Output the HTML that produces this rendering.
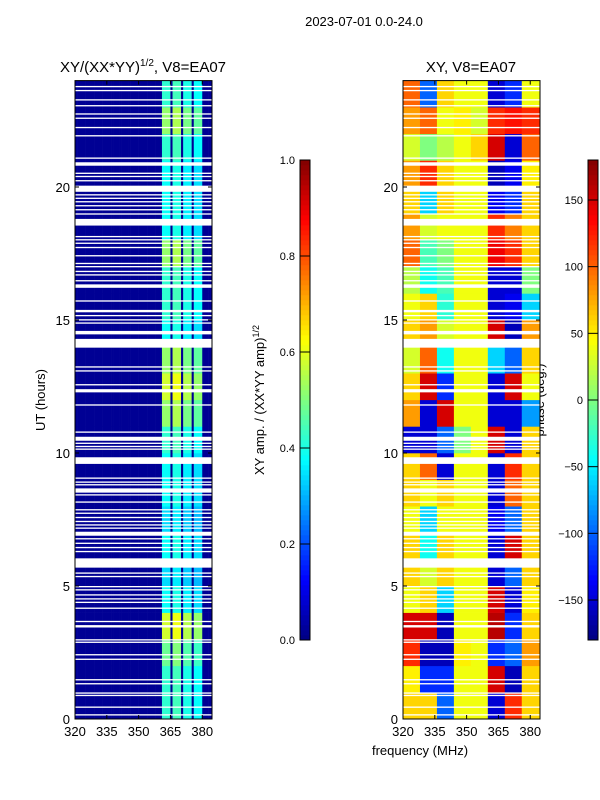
<!DOCTYPE html>
<html><head><meta charset="utf-8"><style>
body{margin:0;background:#fff;}
svg{display:block;font-family:"Liberation Sans",sans-serif;}
</style></head><body>
<svg id="fig" width="600" height="800" viewBox="0 0 600 800">
<rect width="600" height="800" fill="#fff"/>
<text x="364" y="26" font-size="13" text-anchor="middle">2023-07-01 0.0-24.0</text>
<text x="143" y="72" font-size="15" text-anchor="middle">XY/(XX*YY)<tspan font-size="10" dy="-6">1/2</tspan><tspan dy="6">, V8=EA07</tspan></text>
<text x="471" y="72" font-size="15" text-anchor="middle">XY, V8=EA07</text>
<text x="45" y="400" font-size="13" text-anchor="middle" transform="rotate(-90 45 400)">UT (hours)</text>
<text x="420" y="755" font-size="13" text-anchor="middle">frequency (MHz)</text>
<text x="264" y="400" font-size="13" text-anchor="middle" transform="rotate(-90 264 400)">XY amp. / (XX*YY amp)<tspan font-size="9" dy="-5">1/2</tspan></text>
<text x="544" y="400" font-size="13" text-anchor="middle" transform="rotate(-90 544 400)">phase (deg.)</text>
<g id="ampPanel"></g>
<g id="phasePanel"></g>
<g id="axes"></g>
</svg>
<script>
// ---- data ----
const hours = [0,1,2,3,4,5,6,7,8,9,10,11,12,13,14,15,16,17,18,19,20,21,22,23];
const ampBandLevel = [0.42,0.42,0.48,0.58,0.38,0.34,0.38,0.34,0.38,0.38,0.42,0.52,0.58,0.52,0.38,0.42,0.42,0.52,0.38,0.38,0.38,0.42,0.52,0.42];
// amplitude relative level per 1 MHz channel, 320..384
const ampChanProfile = [
0.1,0.1,0.1,0.1,0.1,0.1,0.1,0.1,0.1,0.1,
0.1,0.1,0.1,0.1,0.1,0.1,0.1,0.1,0.1,0.1,
0.1,0.1,0.1,0.1,0.1,0.1,0.1,0.1,0.1,0.1,
0.1,0.1,0.1,0.1,0.1,0.1,0.1,0.1,0.1,0.1,
0.1,1.0,1.0,1.0,1.0,0.1,1.05,1.05,1.05,1.05,
0.1,0.95,0.95,0.95,0.95,0.1,0.9,0.9,0.9,0.9,
0.1,0.1,0.1,0.1,0.1];
const phaseFreqs = [320,328,336,344,352,360,368,376];
const phaseGrid = [
[60,60,-100,40,40,-150,120,60],
[50,-120,-120,40,40,150,-160,60],
[120,-160,-160,50,40,-120,-100,80],
[150,150,-160,40,40,160,-120,60],
[40,60,-60,40,40,150,-150,50],
[60,30,60,40,40,-150,-100,60],
[60,-40,60,40,40,-150,150,60],
[40,-60,40,40,40,-140,-100,60],
[60,40,60,40,40,-150,100,60],
[60,100,-150,40,40,-150,120,60],
[-150,-150,-100,0,40,150,-150,60],
[80,-150,150,40,40,-150,-150,-80],
[60,150,-120,40,40,-150,150,40],
[30,100,-40,40,40,-60,-100,60],
[60,80,30,40,40,150,-160,80],
[40,60,-30,40,40,-150,-140,-60],
[20,-40,-20,40,40,-150,-150,0],
[100,-20,0,40,40,140,120,60],
[80,30,40,40,40,120,90,60],
[60,-60,60,40,40,-140,-120,60],
[80,120,60,40,40,-160,-140,50],
[30,0,20,40,60,150,-150,100],
[80,100,40,50,30,120,130,120],
[100,-100,60,40,40,-150,-120,40]];
const gaps = [[23.75,23.8],[23.6,23.65],[23.25,23.3],[23.03,23.08],[22.72,22.77],[22.56,22.61],[22.21,22.26],[21.9,21.95],[21.06,21.11],[20.8,20.93],[20.49,20.54],[20.37,20.42],[20.21,20.26],[19.82,20.05],[19.68,19.73],[19.55,19.6],[19.42,19.47],[19.27,19.32],[19.12,19.17],[18.96,19.01],[18.55,18.8],[18.11,18.16],[17.99,18.04],[17.86,17.91],[17.7,17.75],[17.39,17.44],[17.1,17.15],[16.98,17.03],[16.8,16.85],[16.67,16.72],[16.45,16.5],[16.21,16.34],[15.69,15.74],[15.29,15.38],[15.14,15.19],[14.98,15.03],[14.86,14.91],[14.46,14.59],[13.96,14.29],[13.21,13.26],[13.06,13.11],[12.54,12.59],[12.28,12.4],[11.78,11.83],[10.76,10.81],[10.46,10.61],[10.34,10.39],[10.22,10.27],[10.12,10.17],[9.59,9.84],[9.03,9.08],[8.88,8.93],[8.78,8.83],[8.51,8.67],[8.4,8.45],[8.13,8.18],[7.84,7.89],[7.71,7.76],[7.55,7.6],[7.4,7.45],[7.27,7.32],[7.15,7.2],[6.89,7.04],[6.75,6.8],[6.58,6.63],[6.42,6.47],[6.27,6.32],[5.69,6.04],[5.46,5.51],[5.33,5.38],[4.95,5.0],[4.83,4.88],[4.64,4.69],[4.49,4.54],[4.36,4.41],[4.14,4.19],[3.64,3.69],[3.44,3.53],[2.95,3.0],[2.86,2.91],[2.39,2.44],[2.22,2.27],[1.45,1.5],[1.3,1.35],[0.95,1.0],[0.86,0.91],[0.42,0.47],[0.13,0.18]];
const yTicks = [0,5,10,15,20];
const xTicks = [320,335,350,365,380];
const ampTicks = [0.0,0.2,0.4,0.6,0.8,1.0];
const phaseTicks = [-150,-100,-50,0,50,100,150];

// ---- scales ----
const NS='http://www.w3.org/2000/svg';
const Y0=719, Y1=80.6, F0=320, F1=384.6;
function yS(h){return Y0-(h/24)*(Y0-Y1);}
function xS(f,left){return left+(f-F0)/(F1-F0)*137;}
function jet(v){v=Math.max(0,Math.min(1,v));
 const c=t=>Math.round(255*Math.max(0,Math.min(1,1.5-Math.abs(4*v-t))));
 return `rgb(${c(3)},${c(2)},${c(1)})`;}
function mk(tag,attrs,parent){const e=document.createElementNS(NS,tag);for(const k in attrs)e.setAttribute(k,attrs[k]);parent.appendChild(e);return e;}

const ampG=document.getElementById('ampPanel'), phG=document.getElementById('phasePanel'), ax=document.getElementById('axes');
const LA=75, LP=403;
// amplitude cells
hours.forEach((h,i)=>{
 ampChanProfile.forEach((p,j)=>{
  const f=F0+j, v=p<0.5?0.2*p:ampBandLevel[i]*p;
  const f2=Math.min(f+1,F1);
  if(f>=F1) return;
  const r=mk('rect',{x:xS(f,LA),y:yS(h+1),width:xS(f2,LA)-xS(f,LA)+0.3,height:yS(h)-yS(h+1)+0.3,fill:jet(v)},ampG);
  
  
 });
});
// phase cells
hours.forEach((h,i)=>{
 phaseFreqs.forEach((f,j)=>{
  const f2=j<phaseFreqs.length-1?phaseFreqs[j+1]:F1;
  const r=mk('rect',{x:xS(f,LP),y:yS(h+1),width:xS(f2,LP)-xS(f,LP)+0.3,height:yS(h)-yS(h+1)+0.3,fill:jet((phaseGrid[i][j]+180)/360)},phG);
  
  
 });
});
// gaps
[[LA,ampG],[LP,phG]].forEach(([L,g])=>{
 gaps.forEach(gp=>{
  const r=mk('rect',{x:L,y:yS(gp[1]),width:137,height:Math.max(1.2,yS(gp[0])-yS(gp[1])),fill:'#fff'},g);
  
  
 });
});
// axes frames & ticks
[LA,LP].forEach(L=>{
 const fr=mk('rect',{x:L,y:Y1,width:137,height:Y0-Y1,fill:'none',stroke:'#000','stroke-width':1},ax);
 
 
 yTicks.forEach(t=>{
  const y=yS(t);
  mk('line',{x1:L,x2:L+4,y1:y,y2:y,stroke:'#000'},ax);
  mk('line',{x1:L+137,x2:L+133,y1:y,y2:y,stroke:'#000'},ax);
  const tx=mk('text',{x:L-5,y:y+5,'font-size':13,'text-anchor':'end'},ax);tx.textContent=t;
  
  
 });
 xTicks.forEach(t=>{
  const x=xS(t,L);
  mk('line',{x1:x,x2:x,y1:Y0,y2:Y0-4,stroke:'#000'},ax);
  mk('line',{x1:x,x2:x,y1:Y1,y2:Y1+4,stroke:'#000'},ax);
  const tx=mk('text',{x:x,y:Y0+17,'font-size':13,'text-anchor':'middle'},ax);tx.textContent=t;
  
  
 });
});
// colorbars
function cbar(x,ticks,lo,hi,name){
 const T=160,B=640;
 for(let k=0;k<96;k++){
  const r=mk('rect',{x:x,y:B-(k+1)*5,width:10,height:5.3,fill:jet((k+0.5)/96)},ax);
  
  
 }
 const fr=mk('rect',{x:x,y:T,width:10,height:B-T,fill:'none',stroke:'#000'},ax);
 
 
 ticks.forEach(t=>{
  const y=B-(t-lo)/(hi-lo)*(B-T);
  mk('line',{x1:x,x2:x+10,y1:y,y2:y,stroke:'#000'},ax);
  const tx=mk('text',{x:x-5,y:y+4,'font-size':11,'text-anchor':'end'},ax);
  tx.textContent=(lo===0?t.toFixed(1):(t<0?'\u2212'+(-t):t));
  
  
 });
}
cbar(300,ampTicks,0,1,'amp-colorbar');
cbar(588,phaseTicks,-180,180,'phase-colorbar');
</script>
</body></html>
